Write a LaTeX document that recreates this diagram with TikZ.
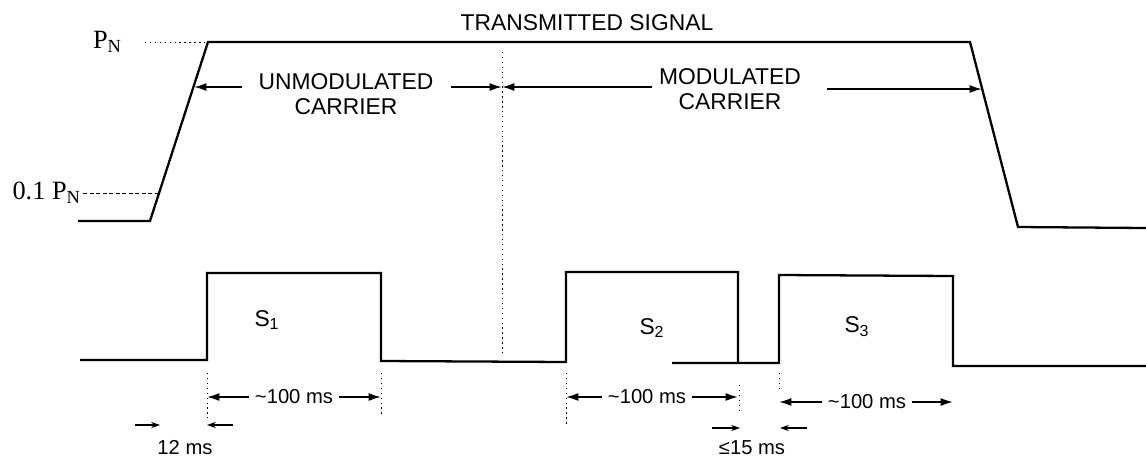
\documentclass[tikz,border=0pt]{standalone}
\usepackage{fontspec}
\setmainfont{Liberation Sans}
\newfontfamily\pnfont{Liberation Serif}
\usetikzlibrary{arrows.meta}

\tikzset{
  wave/.style={line width=1.3pt, line join=miter},
  guide/.style={line width=0.5pt, dash pattern=on 0.8pt off 2pt},
  fineguide/.style={line width=0.5pt, dash pattern=on 2.5pt off 1.2pt},
  lbl/.style={font=\fontsize{13}{14.2}\selectfont, align=center, inner sep=1pt},
  dimlbl/.style={font=\fontsize{11.5}{13}\selectfont, inner sep=3pt},
  pnlbl/.style={font=\pnfont\fontsize{15}{17}\selectfont, inner sep=1pt},
  dimarr/.style={line width=0.9pt, -{Latex[length=7pt,width=4.5pt]}},
  tickarr/.style={line width=0.6pt, -{Stealth[length=5pt,width=3.5pt]}},
}

\begin{document}
\begin{tikzpicture}[x=0.02cm,y=-0.02cm]
  \useasboundingbox (0,0) rectangle (1146,457);
  % transmitted signal envelope
  \coordinate (riseB) at (150,221);
  \coordinate (riseT) at (208,42);
  \coordinate (fallT) at (970,42);
  \coordinate (fallB) at (1018,227);
  \draw[wave] (78,221) -- (riseB) -- (riseT) -- (fallT) -- (fallB) -- (1146,228);
  \node[lbl] (title) at (587,23) {TRANSMITTED SIGNAL};
  % power levels
  \node[pnlbl,anchor=east] (pn) at (124,42) {P\textsubscript{N}};
  \node[pnlbl,anchor=east] (pnlow) at (83,193) {0.1 P\textsubscript{N}};
  \draw[guide] ([xshift=0.42cm]pn.east) -- (riseT);
  \draw[fineguide] (pnlow.east) -- (159,193);
  % carrier phases
  \coordinate (riseA) at (194,87);
  \coordinate (mid) at (502,87);
  \coordinate (fallA) at (982,89);
  \draw[guide] (502,52) -- (502,355);
  \node[lbl] (unmod) at (346,94) {UNMODULATED\\CARRIER};
  \node[lbl] (mod) at (730,89) {MODULATED\\CARRIER};
  \draw[dimarr] (242,87) -- (riseA);
  \draw[dimarr] (451,87) -- (mid);
  \draw[dimarr] (652,87) -- (mid);
  \draw[dimarr] (827,89) -- (fallA);
  % synchronisation pulses
  \draw[wave] (80,360) -- (207,360) -- (207,273) -- (381,273) -- (381,361)
    -- (566,362) -- (566,272) -- (738,272) -- (738,363);
  \draw[wave] (672,363) -- (779,363) -- (779,275) -- (953,276) -- (953,366) -- (1146,366);
  \node[lbl] (s1) at (267,320) {S\textsubscript{1}};
  \node[lbl] (s2) at (652,328) {S\textsubscript{2}};
  \node[lbl] (s3) at (857,327) {S\textsubscript{3}};
  % pulse widths
  \foreach \x/\ya/\yb in {207/373/418, 381/373/415, 566/373/425, 739/385/413, 779/373/388}
    \draw[guide] (\x,\ya) -- (\x,\yb);
  \node[dimlbl] (w1) at (294,397) {\textasciitilde100 ms};
  \node[dimlbl] (w2) at (647,397) {\textasciitilde100 ms};
  \node[dimlbl] (w3) at (867,402) {\textasciitilde100 ms};
  \draw[dimarr] (w1.west) -- (207,397);
  \draw[dimarr] (w1.east) -- (381,397);
  \draw[dimarr] (w2.west) -- (566,397);
  \draw[dimarr] (w2.east) -- (738,397);
  \draw[dimarr] (w3.west) -- (779,402);
  \draw[dimarr] (w3.east) -- (953,402);
  % delays
  \node[dimlbl] (d12) at (185,448) {12 ms};
  \node[dimlbl] (d15) at (752,448) {≤15 ms};
  \draw[tickarr] (135,425) -- (160,425);
  \draw[tickarr] (233,425) -- (207,425);
  \draw[tickarr] (712,428) -- (740,428);
  \draw[tickarr] (807,428) -- (780,428);
\end{tikzpicture}
\end{document}
